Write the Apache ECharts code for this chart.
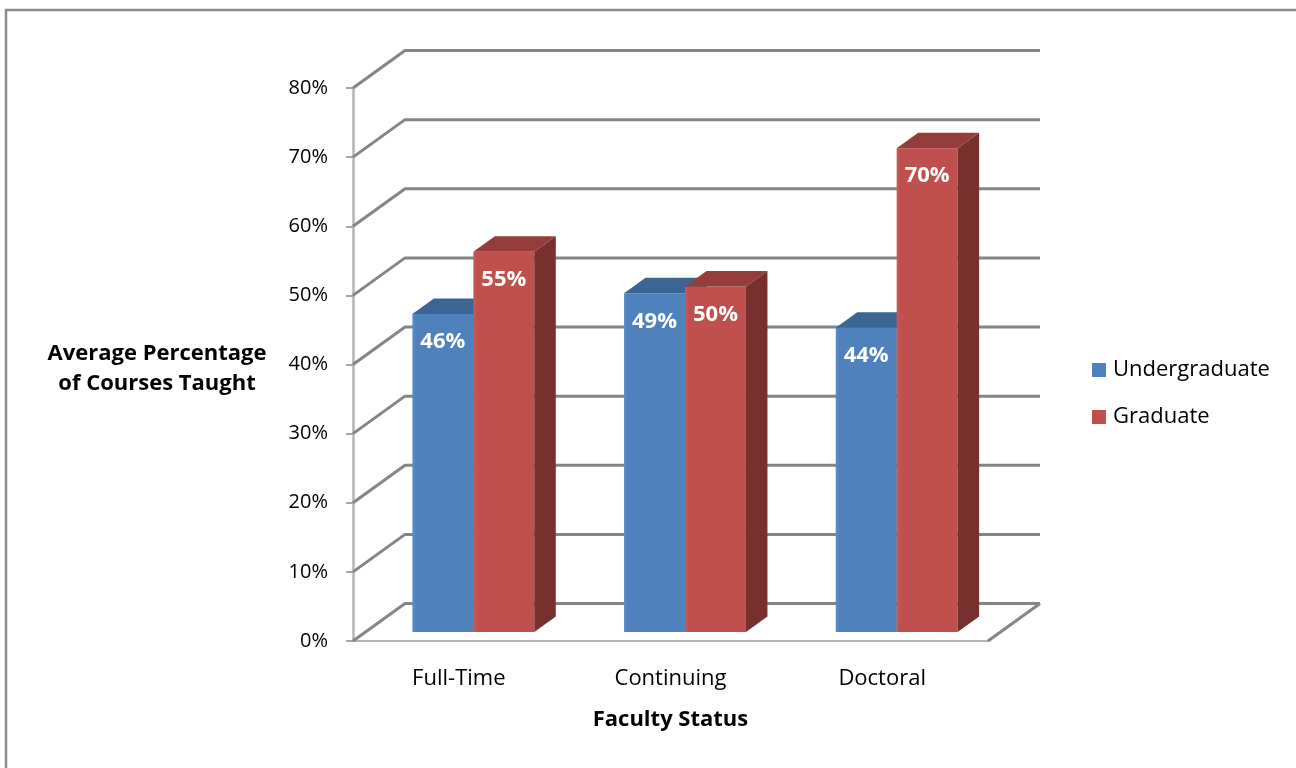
<!DOCTYPE html>
<html>
<head>
<meta charset="utf-8">
<script src="https://cdn.jsdelivr.net/npm/echarts@6/dist/echarts.min.js"></script>
<style>html,body{margin:0;padding:0;background:#fff;}#main{width:1296px;height:768px;}</style>
</head>
<body>
<div id="main"></div>
<script>
const categories = ['Full-Time', 'Continuing', 'Doctoral'];
const undergraduate = [46, 49, 44];
const graduate = [55, 50, 70];
const yTicks = [0, 10, 20, 30, 40, 50, 60, 70, 80];
const seriesNames = ['Undergraduate', 'Graduate'];

const FONT = '"Open Sans"';
// 3D projection styling
const DX = 52, DY = -37.5;          // wall depth
const SX = 14.5, SY = -9;           // bar front face shift into depth
const BX = 21.5, BY = -15.5;        // bar depth
const BAR_FRAC = 0.288;             // bar width as fraction of category band

const palettes = [
  { front: '#4f81bd', top: '#3c6594', side: '#2f5077' },
  { front: '#c0504d', top: '#943d3a', side: '#78302e' }
];

function wallRender(params, api) {
  const cs = params.coordSys;
  const v = api.value(1);
  const p = api.coord([0, v]);
  const y = p[1];
  const style = { stroke: '#858585', lineWidth: 3, fill: null };
  const children = [{
    type: 'polyline',
    shape: { points: [[cs.x, y], [cs.x + DX, y + DY], [cs.x + cs.width + DX, y + DY]] },
    style: style
  }];
  if (v === 0) {
    children.push({
      type: 'polyline',
      shape: { points: [[cs.x + cs.width, y], [cs.x + cs.width + DX, y + DY]] },
      style: style
    });
  }
  return { type: 'group', children: children };
}

function makeBarRender(s) {
  return function (params, api) {
    const ci = api.value(0);
    const v = api.value(1);
    const base = api.coord([ci, 0]);
    const top = api.coord([ci, v]);
    const band = api.size([1, 0])[0];
    const w = band * BAR_FRAC;
    const x0 = base[0] - w + s * w + SX;
    const x1 = x0 + w;
    const yb = base[1] + SY;
    const yt = top[1] + SY;
    const pal = palettes[s];
    return {
      type: 'group',
      children: [
        { type: 'rect', shape: { x: x0, y: yt, width: w, height: yb - yt },
          style: { fill: { type: 'linear', x: 0, y: 0, x2: 1, y2: 0, colorStops: [
            { offset: 0, color: s === 0 ? '#5a8dca' : '#c85a57' }, { offset: 0.06, color: pal.front }, { offset: 1, color: pal.front }] } } },
        { type: 'polygon', shape: { points: [[x0, yt], [x0 + BX, yt + BY], [x1 + BX, yt + BY], [x1, yt]] },
          style: { fill: pal.top } },
        { type: 'polygon', shape: { points: [[x1, yt], [x1 + BX, yt + BY], [x1 + BX, yb + BY], [x1, yb]] },
          style: { fill: pal.side } },
        { type: 'text', x: (x0 + x1) / 2, y: yt + 28,
          style: { text: v + '%', fill: '#ffffff', font: 'bold 22px ' + FONT, textAlign: 'center', textVerticalAlign: 'middle' } }
      ]
    };
  };
}

const chart = echarts.init(document.getElementById('main'), null, { renderer: 'canvas' });
chart.setOption({
  backgroundColor: '#ffffff',
  animation: false,
  textStyle: { fontFamily: FONT },
  grid: { left: 353, right: 308, top: 88, bottom: 127, containLabel: false },
  legend: {
    data: seriesNames,
    orient: 'vertical',
    left: 1087, top: 354,
    itemWidth: 14, itemHeight: 14, itemGap: 25,
    icon: 'rect',
    textStyle: { fontSize: 22, color: '#000', fontFamily: FONT, padding: [0, 0, 0, 2] }
  },
  xAxis: {
    type: 'category',
    data: categories,
    name: 'Faculty Status',
    nameLocation: 'middle',
    nameGap: 68,
    nameTextStyle: { fontSize: 22, fontWeight: 'bold', color: '#000', fontFamily: FONT },
    axisLine: { lineStyle: { color: '#b4b4b4', width: 2 } },
    axisTick: { length: 8, lineStyle: { color: '#a8a8a8', width: 2 } },
    axisLabel: { fontSize: 22, color: '#000', margin: 27, fontFamily: FONT },
    splitLine: { show: false }
  },
  yAxis: {
    type: 'value',
    min: 0, max: 80, interval: 10,
    axisLine: { show: true, lineStyle: { color: '#b4b4b4', width: 2.5 } },
    axisTick: { show: true, length: 7, lineStyle: { color: '#a8a8a8', width: 2 } },
    axisLabel: { formatter: '{value}%', fontSize: 20, color: '#000', margin: 25, fontFamily: FONT },
    splitLine: { show: false }
  },
  graphic: [
    { type: 'rect', z: -10, shape: { x: 6, y: 10, width: 1400, height: 900 },
      style: { fill: null, stroke: '#8c8c8c', lineWidth: 2.5 } },
    { type: 'text', left: 40, top: 339,
      style: { text: 'Average Percentage\nof Courses Taught', font: 'bold 22px ' + FONT, fill: '#000',
        textAlign: 'center', lineHeight: 30, width: 234, align: 'center' } }
  ],
  series: [
    { type: 'custom', name: 'wall', silent: true, z: 1, renderItem: wallRender,
      data: yTicks.map(v => [0, v]) },
    { type: 'custom', name: seriesNames[0], z: 3, itemStyle: { color: palettes[0].front },
      renderItem: makeBarRender(0), data: undergraduate.map((v, i) => [i, v]) },
    { type: 'custom', name: seriesNames[1], z: 3, itemStyle: { color: palettes[1].front },
      renderItem: makeBarRender(1), data: graduate.map((v, i) => [i, v]) }
  ]
});
</script>
</body>
</html>
